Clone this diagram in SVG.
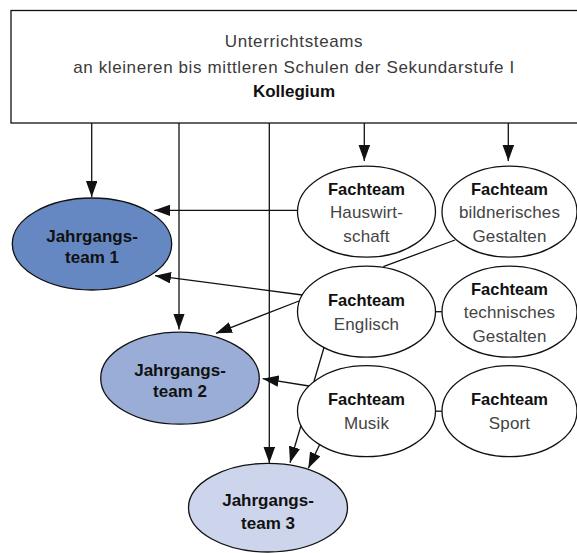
<svg xmlns="http://www.w3.org/2000/svg" width="577" height="553" viewBox="0 0 577 553">
<style>
.box{fill:#fff;stroke:#111;stroke-width:1.3}
.ell{stroke:#111;stroke-width:1.3}
.ft{fill:#fff}
.j1{fill:#6688c2}
.j2{fill:#99add7}
.j3{fill:#cdd5ec}
.t{font-family:"Liberation Sans",Arial,sans-serif;text-anchor:middle}
.hd{font-size:17px;fill:#3a3a3a;letter-spacing:0.62px}
.kb{font-size:17px;font-weight:bold;fill:#111}
.fb{font-size:16.5px;font-weight:bold;fill:#111}
.fs{font-size:17px;fill:#444;letter-spacing:0.15px}
.jb{font-size:17px;font-weight:bold;fill:#111}
.c{fill:none;stroke:#111;stroke-width:1.3}
.a{marker-end:url(#arr)}
</style>
<defs>
<marker id="arr" markerUnits="userSpaceOnUse" markerWidth="17" markerHeight="12" refX="16" refY="5.75" orient="auto">
<path d="M0,0 L16,5.75 L0,11.5 z" fill="#111"/>
</marker>
</defs>
<g id="kollegium">
<rect class="box" x="11" y="10.5" width="572" height="112.5"/>
<text class="t hd" x="294" y="47.3">Unterrichtsteams</text>
<text class="t hd" x="294" y="72.7">an kleineren bis mittleren Schulen der Sekundarstufe I</text>
<text class="t kb" x="294" y="97.3">Kollegium</text>
</g>
<g id="connectors">
<path class="c a" d="M91.7,123 V197"/>
<path class="c a" d="M179,123 V329.5"/>
<path class="c a" d="M269.3,123 V463"/>
<path class="c a" d="M364.3,123 V161"/>
<path class="c a" d="M508.3,123 V161"/>
<path class="c a" d="M297.5,210.3 H154.3"/>
<path class="c a" d="M302.4,295 L155,275.7"/>
<path class="c a" d="M299,301 L216,333.3"/>
<path class="c" d="M455,240 L383.3,266.7"/>
<path class="c" d="M435.5,311.7 H442"/>
<path class="c a" d="M324,347.5 L290,462.7"/>
<path class="c a" d="M309,386 L262.7,378.7"/>
<path class="c a" d="M319.5,445 L308.3,468.3"/>
<path class="c" d="M435.5,411.2 H442"/>
</g>
<g id="fachteam-hauswirtschaft">
<ellipse class="ell ft" cx="366.5" cy="211.7" rx="69" ry="45.5"/>
<text class="t fb" x="366.5" y="195">Fachteam</text>
<text class="t fs" x="366.5" y="218.3">Hauswirt-</text>
<text class="t fs" x="366.5" y="241.7">schaft</text>
</g>
<g id="fachteam-bildnerisches">
<ellipse class="ell ft" cx="509.5" cy="211.7" rx="67.5" ry="45.5"/>
<text class="t fb" x="509.5" y="195">Fachteam</text>
<text class="t fs" x="509.5" y="218.3">bildnerisches</text>
<text class="t fs" x="509.5" y="241.7">Gestalten</text>
</g>
<g id="fachteam-englisch">
<ellipse class="ell ft" cx="366.5" cy="311.7" rx="69" ry="45.5"/>
<text class="t fb" x="366.5" y="306">Fachteam</text>
<text class="t fs" x="366.5" y="330">Englisch</text>
</g>
<g id="fachteam-technisches">
<ellipse class="ell ft" cx="509.5" cy="311.7" rx="67.5" ry="45.5"/>
<text class="t fb" x="509.5" y="295">Fachteam</text>
<text class="t fs" x="509.5" y="318.3">technisches</text>
<text class="t fs" x="509.5" y="341.7">Gestalten</text>
</g>
<g id="fachteam-musik">
<ellipse class="ell ft" cx="366.5" cy="411.2" rx="69" ry="45.5"/>
<text class="t fb" x="366.5" y="405.3">Fachteam</text>
<text class="t fs" x="366.5" y="429.3">Musik</text>
</g>
<g id="fachteam-sport">
<ellipse class="ell ft" cx="509.5" cy="411.2" rx="67.5" ry="45.5"/>
<text class="t fb" x="509.5" y="405.3">Fachteam</text>
<text class="t fs" x="509.5" y="429.3">Sport</text>
</g>
<g id="jahrgangsteam-1">
<ellipse class="ell j1" cx="92" cy="244" rx="79.7" ry="46"/>
<text class="t jb" x="92" y="241.7">Jahrgangs-</text>
<text class="t jb" x="92" y="263.3">team 1</text>
</g>
<g id="jahrgangsteam-2">
<ellipse class="ell j2" cx="180" cy="378.2" rx="79.3" ry="46"/>
<text class="t jb" x="180" y="375.5">Jahrgangs-</text>
<text class="t jb" x="180" y="397">team 2</text>
</g>
<g id="jahrgangsteam-3">
<ellipse class="ell j3" cx="268" cy="507.7" rx="79.5" ry="44.3"/>
<text class="t jb" x="268" y="506">Jahrgangs-</text>
<text class="t jb" x="268" y="528.5">team 3</text>
</g>
</svg>
